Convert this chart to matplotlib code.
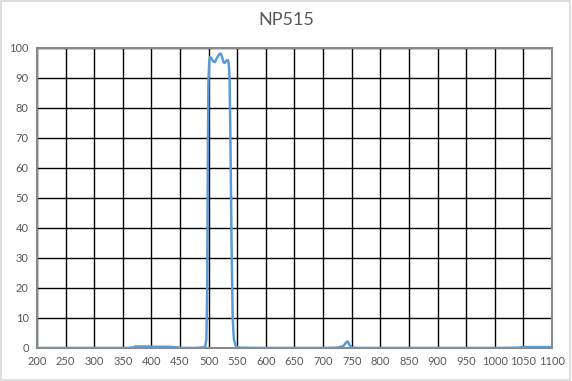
import matplotlib
matplotlib.use("Agg")
import matplotlib.pyplot as plt
from matplotlib.patches import Rectangle

# transmission curve (nm, %)
wavelength = [200, 300, 360, 368, 372, 390, 410, 430, 445, 455, 470, 485, 490,
              494, 496, 497.5, 498.5, 499.5, 501, 502.5, 505, 508, 511, 514, 518,
              521, 523.5, 526, 528, 531, 533.5, 535, 536.5, 538, 540, 542, 544,
              547, 552, 600, 700, 725, 735, 740, 743, 746, 750, 760, 800, 900,
              1000, 1040, 1050, 1080, 1100]
transmission = [0, 0, 0, 0.2, 0.5, 0.5, 0.4, 0.4, 0.2, 0, 0, 0.1, 0.2,
                0.5, 3, 20, 60, 88, 95.5, 97, 96.5, 95.5, 95.3, 96.5, 97.8,
                98.2, 97, 95.2, 95, 95.8, 96, 95, 90, 70, 35, 10, 3,
                0.8, 0.1, 0, 0, 0.1, 0.6, 1.8, 2.2, 1.0, 0.2, 0, 0, 0,
                0, 0.1, 0.3, 0.3, 0.3]

title = "NP515"
xticks = list(range(200, 1101, 50))
yticks = list(range(0, 101, 10))

plt.rcParams['font.family'] = ['Lato', 'DejaVu Sans']

fig = plt.figure(figsize=(5.72, 3.81), dpi=100)
ax = fig.add_axes([37 / 572, 1 - 348 / 381, 515 / 572, 300 / 381])

ax.plot(wavelength, transmission, color='#5B9BD5', lw=1.8, zorder=3)

ax.set_xlim(200, 1100)
ax.set_ylim(0, 100)
ax.set_xticks(xticks)
ax.set_yticks(yticks)
ax.grid(True, color='black', lw=1.0)
ax.tick_params(length=0, labelsize=8, colors='#595959', pad=6)
for s in ax.spines.values():
    s.set_color('#898989')
    s.set_linewidth(1.5)

fig.text(0.5, 1 - 20 / 381, title, ha='center', va='center',
         fontsize=13, color='#595959')

fig.patches.append(Rectangle((0.002, 0.003), 0.994, 0.994, transform=fig.transFigure,
                             fill=False, edgecolor='#D9D9D9', lw=1.2))

fig.savefig("out.png", dpi=100)
